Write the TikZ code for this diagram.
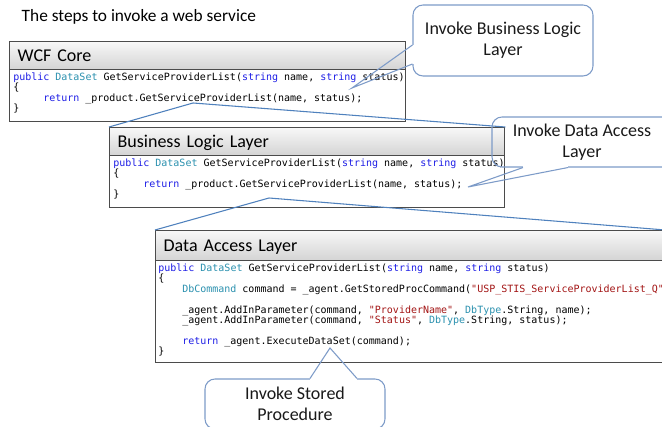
\documentclass[tikz,border=0pt]{standalone}
\usepackage{fontspec}
\setmainfont{Carlito}
\setmonofont{DejaVu Sans Mono}

\definecolor{kwblue}{RGB}{30,30,230}
\definecolor{typeteal}{RGB}{43,145,175}
\definecolor{strred}{RGB}{163,21,21}
\definecolor{framegray}{RGB}{75,75,75}
\definecolor{zoomblue}{RGB}{79,129,189}
\definecolor{calloutblue}{RGB}{125,155,200}

\newcommand{\kw}[1]{\textcolor{kwblue}{#1}}
\newcommand{\ty}[1]{\textcolor{typeteal}{#1}}
\newcommand{\st}[1]{\textcolor{strred}{#1}}

\tikzset{
	panel/.style={draw=framegray, line width=1pt, fill=white, inner sep=0pt},
	header/.style={draw=framegray, line width=1pt, top color=black!3, bottom color=black!17,
		inner xsep=6pt, inner ysep=0pt, text width=#1, align=left,
		text height=8.7pt, text depth=0pt, font=\fontsize{13.5pt}{16pt}\selectfont},
	code/.style={inner sep=0pt, align=left, font=\fontsize{7.5pt}{7.8pt}\selectfont\ttfamily},
	zoomline/.style={draw=zoomblue, line width=0.8pt},
	callout/.style={draw=calloutblue, line width=0.8pt, rounded corners=7.5pt,
		minimum width=135pt, align=center, text=black!90,
		font=\fontsize{13.5pt}{15.75pt}\selectfont},
	pointer/.style={draw=calloutblue, line width=0.8pt},
}

\begin{document}
\begin{tikzpicture}[x=0.75pt, y=-0.75pt]
	\useasboundingbox (0,0) rectangle (662,427);
	\clip (0,0) rectangle (662,427);

	\node[anchor=base west, font=\fontsize{13pt}{15pt}\selectfont] (title) at (17,22) {The steps to invoke a web service};

	% WCF core
	\node[panel, anchor=north west, minimum width=297pt, minimum height=60pt] (wcf) at (9,41) {};
	\node[header=285pt, anchor=north west, minimum height=21pt] (wcfhead) at (wcf.north west) {WCF Core};
	\node[code, anchor=north west] (wcfcode) at (13,72.5) {%
		\kw{public} \ty{DataSet} GetServiceProviderList(\kw{string} name, \kw{string} status)\\
		\{\\
		\hspace*{22.5pt}\kw{return} \_product.GetServiceProviderList(name, status);\\
		\}};

	% business logic layer
	\node[panel, anchor=north west, minimum width=296.25pt, minimum height=60pt] (bll) at (109,127) {};
	\node[header=284.25pt, anchor=north west, minimum height=21pt] (bllhead) at (bll.north west) {Business Logic Layer};
	\node[code, anchor=north west] (bllcode) at (113,158.5) {%
		\kw{public} \ty{DataSet} GetServiceProviderList(\kw{string} name, \kw{string} status)\\
		\{\\
		\hspace*{22.5pt}\kw{return} \_product.GetServiceProviderList(name, status);\\
		\}};

	% data access layer
	\node[panel, anchor=north west, minimum width=381.75pt, minimum height=99pt] (dal) at (155,230) {};
	\node[header=369.75pt, anchor=north west, minimum height=22.5pt] (dalhead) at (dal.north west) {Data Access Layer};
	\node[code, anchor=north west] (dalcode) at (158,263.5) {%
		\kw{public} \ty{DataSet} GetServiceProviderList(\kw{string} name, \kw{string} status)\\
		\{\\
		\hspace*{18pt}\ty{DbCommand} command = \_agent.GetStoredProcCommand(\st{"USP\_STIS\_ServiceProviderList\_Q"});\\
		\mbox{}\\
		\hspace*{18pt}\_agent.AddInParameter(command, \st{"ProviderName"}, \ty{DbType}.String, name);\\
		\hspace*{18pt}\_agent.AddInParameter(command, \st{"Status"}, \ty{DbType}.String, status);\\
		\mbox{}\\
		\hspace*{18pt}\kw{return} \_agent.ExecuteDataSet(command);\\
		\}};

	% zoom lines
	\coordinate (wcfzoom) at (193,103);
	\coordinate (bllzoom) at (269,198);
	\draw[zoomline] (bll.north west) -- (wcfzoom) -- (bll.north east);
	\draw[zoomline] (dal.north west) -- (bllzoom) -- (dal.north east);

	% callouts
	\node[callout, minimum height=53.25pt] (callbll) at (503,40.5) {Invoke Business Logic\\Layer};
	\node[callout, minimum height=37.5pt] (calldal) at (582,142) {Invoke Data Access\\Layer};
	\node[callout, minimum height=37.5pt] (callsp) at (295,404) {Invoke Stored\\Procedure};

	\coordinate (tipbll) at (352,88);
	\coordinate (bllbaseA) at (callbll.west |- 0,45);
	\coordinate (bllbaseB) at (callbll.west |- 0,64);
	\draw[white, line width=1.6pt] (bllbaseA) -- (bllbaseB);
	\draw[pointer] (bllbaseA) -- (tipbll) -- (bllbaseB);

	\coordinate (tipdal) at (468,187);
	\coordinate (dalbaseA) at (calldal.south -| 523,0);
	\coordinate (dalbaseB) at (calldal.south -| 568,0);
	\draw[white, line width=1.6pt] (dalbaseA) -- (dalbaseB);
	\draw[pointer] (dalbaseA) -- (tipdal) -- (dalbaseB);

	\coordinate (tipsp) at (330,348);
	\coordinate (spbaseA) at (callsp.north -| 310,0);
	\coordinate (spbaseB) at (callsp.north -| 357,0);
	\draw[white, line width=1.6pt] (spbaseA) -- (spbaseB);
	\draw[pointer] (spbaseA) -- (tipsp) -- (spbaseB);
\end{tikzpicture}
\end{document}
